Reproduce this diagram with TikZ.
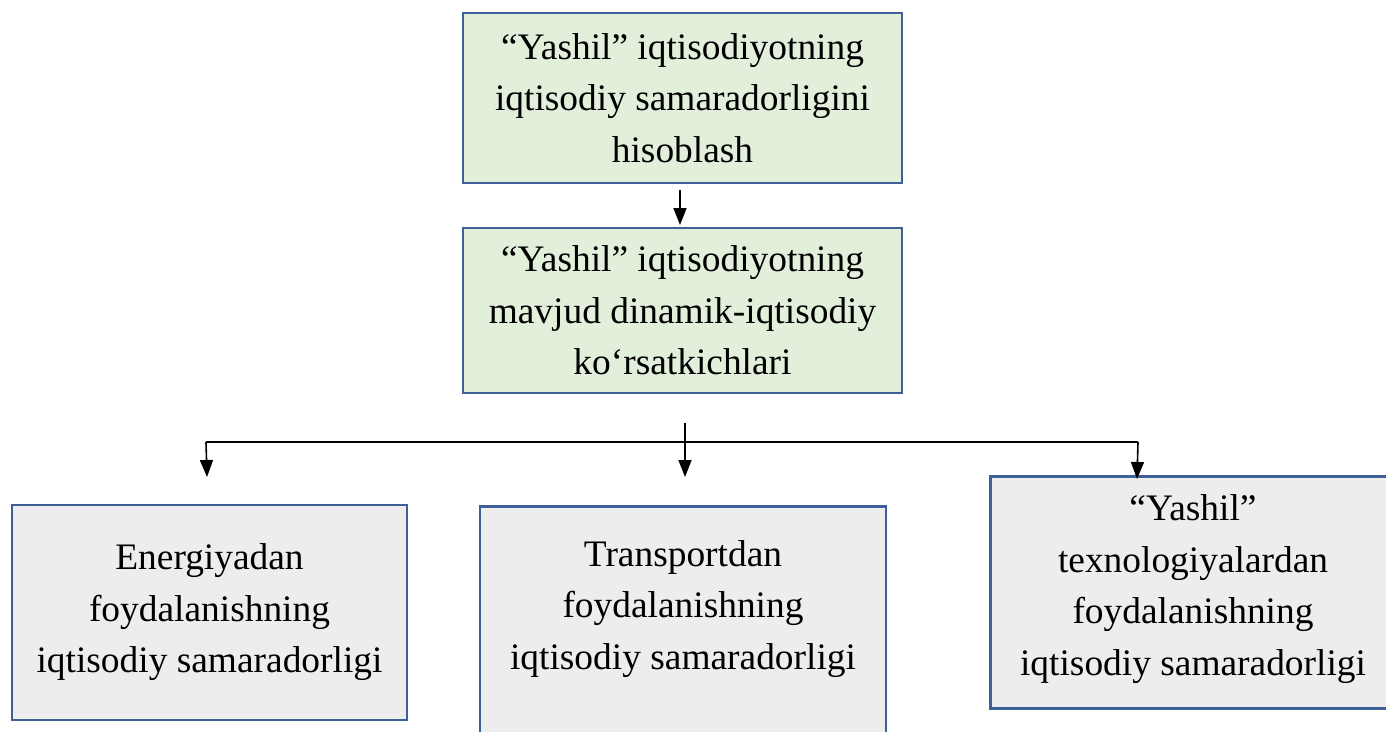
\documentclass[tikz,border=0pt]{standalone}
\usepackage{fontspec}
\setmainfont{Liberation Serif}
\usetikzlibrary{arrows.meta}
\definecolor{boxborder}{RGB}{62,96,150}
\definecolor{greenfill}{RGB}{226,239,218}
\definecolor{grayfill}{RGB}{237,237,237}
\tikzset{
  basebox/.style={draw=boxborder, line width=2.8pt, align=center, inner sep=0pt,
    font=\fontsize{37.4}{51.5}\selectfont},
  greenbox/.style={basebox, fill=greenfill},
  graybox/.style={basebox, fill=grayfill},
  txt/.style={align=center, inner sep=0pt, font=\fontsize{37.4}{51.5}\selectfont},
  conn/.style={line width=1.6pt, black},
  arr/.style={conn, -{Triangle[length=17pt,width=13pt]}},
}
\begin{document}
\begin{tikzpicture}[x=1pt,y=-1pt]
\useasboundingbox (0,0) rectangle (1386,731);
% boxes
\node[greenbox, minimum width=439, minimum height=170] (top) at (682.5,98)
  {“Yashil” iqtisodiyotning\\iqtisodiy samaradorligini\\hisoblash};
\node[greenbox, minimum width=439, minimum height=165] (second) at (682.5,310.5)
  {“Yashil” iqtisodiyotning\\mavjud dinamik-iqtisodiy\\ko‘rsatkichlari};
\node[graybox, minimum width=395, minimum height=215] (left) at (209.5,612.5)
  {Energiyadan\\foydalanishning\\iqtisodiy samaradorligi};
\node[graybox, minimum width=406, minimum height=250, anchor=north] (mid) at (683,505) {};
\node[txt] (midtext) at (683,609)
  {Transportdan\\foydalanishning\\iqtisodiy samaradorligi};
\node[graybox, minimum width=420, minimum height=232, anchor=north west] (right) at (989,475)
  {};
\node[txt] (righttext) at (1193,589)
  {“Yashil”\\texnologiyalardan\\foydalanishning\\iqtisodiy samaradorligi};
% connectors
\coordinate (a1) at (680,190);
\coordinate (a2) at (680,225);
\draw[arr] (a1) -- (a2);
\coordinate (hl) at (206,442);
\coordinate (hr) at (1138,442);
\draw[conn] (hl) -- (hr);
\coordinate (mtop) at (685,423);
\coordinate (mend) at (685,477);
\draw[arr] (mtop) -- (mend);
\coordinate (lend) at (207,477);
\draw[arr] (hl) -- (lend);
\coordinate (rend) at (1137,479);
\draw[arr] (hr) -- (rend);
\end{tikzpicture}
\end{document}
